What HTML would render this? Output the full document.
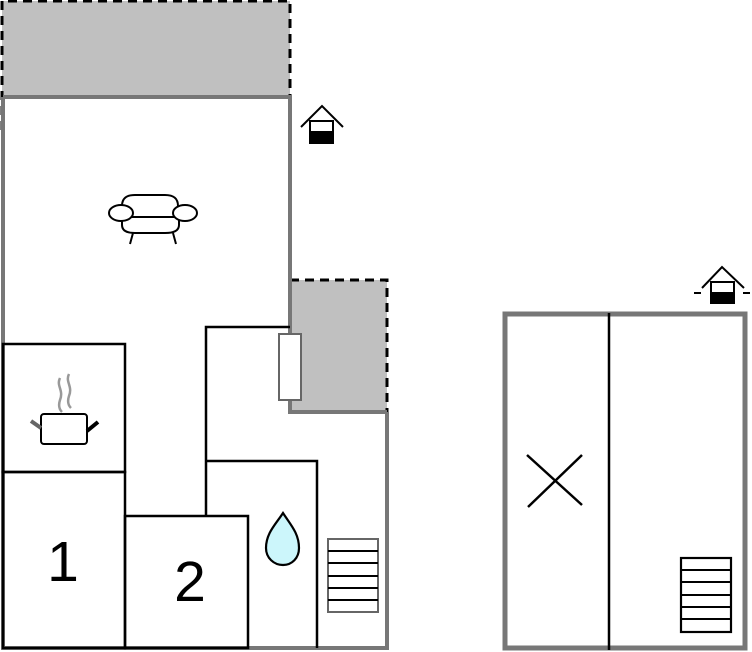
<!DOCTYPE html>
<html><head><style>html,body{margin:0;padding:0;background:#fff;width:752px;height:652px;overflow:hidden}</style></head>
<body>
<svg width="752" height="652" viewBox="0 0 752 652" xmlns="http://www.w3.org/2000/svg">
<rect x="2" y="1" width="288" height="96" fill="#c0c0c0"/>
<path d="M2 130 V1 H290 V130" fill="none" stroke="#000" stroke-width="3" stroke-dasharray="9,6"/>
<rect x="290" y="280" width="97" height="132" fill="#c0c0c0"/>
<path d="M290 280 H387 V412" fill="none" stroke="#000" stroke-width="3" stroke-dasharray="9,6"/>
<g fill="none" stroke="#777" stroke-width="4">
<path d="M3 97 H292"/>
<path d="M3 97 V650"/>
<path d="M290 97 V412 H387"/>
<path d="M387 412 V650"/>
<path d="M3 648 H389"/>
</g>
<g fill="none" stroke="#000" stroke-width="2.5">
<rect x="3" y="344" width="122" height="128"/>
<rect x="3" y="472" width="122" height="176"/>
<rect x="125" y="516" width="123" height="132"/>
<path d="M206 516 V327 H290"/>
<path d="M206 461 H317 V648"/>
</g>
<rect x="279" y="334" width="22" height="66" fill="#fff" stroke="#666" stroke-width="2"/>
<text x="63" y="581" font-family="Liberation Sans, sans-serif" font-size="57" text-anchor="middle">1</text>
<text x="190" y="601" font-family="Liberation Sans, sans-serif" font-size="57" text-anchor="middle">2</text>
<path d="M283 513 C276 524 266 533 266 548 C266 558 274 565 283 565 C292 565 299 558 299 548 C299 533 290 524 283 513 Z" fill="#ccf6fb" stroke="#000" stroke-width="2.2"/>
<rect x="328" y="539" width="50" height="73" fill="none" stroke="#666" stroke-width="2"/>
<g stroke="#000" stroke-width="2"><path d="M328 551H378M328 563H378M328 576H378M328 588H378M328 600H378"/></g>
<g fill="none">
<path d="M60 378 c-4 8 4 12 0 22 c-2 6 0 10 2 12" stroke="#999" stroke-width="2.5"/>
<path d="M69 374 c-4 8 4 12 0 22 c-2 6 0 10 2 12" stroke="#999" stroke-width="2.5"/>
<rect x="41" y="414" width="46" height="30" rx="3" fill="#fff" stroke="#000" stroke-width="2"/>
<path d="M31 421 L41 428" stroke="#666" stroke-width="4"/>
<path d="M87 431 L98 422" stroke="#000" stroke-width="4"/>
</g>
<g fill="#fff" stroke="#000" stroke-width="2">
<path d="M133 233 L130 244 M173 233 L176 244"/>
<path d="M122 217 V225 C122 232 130 233 135 233 H165 C171 233 179 232 179 225 V217 Z"/>
<path d="M122 206 C122 197 128 195 135 195 H165 C172 195 178 197 178 206 V217 H122 Z"/>
<ellipse cx="121" cy="213" rx="12" ry="8"/>
<ellipse cx="185" cy="213" rx="12" ry="8"/>
</g>
<g>
<path d="M301 127 L322 106 L343 127" fill="none" stroke="#000" stroke-width="2"/>
<rect x="310" y="121" width="23" height="22" fill="#fff" stroke="#000" stroke-width="2"/>
<rect x="310" y="131" width="23" height="12" fill="#000"/>
</g>
<rect x="505" y="314" width="240" height="334" fill="none" stroke="#777" stroke-width="5"/>
<path d="M609 313 V650" stroke="#000" stroke-width="2.5"/>
<path d="M527 455 L582 505 M528 507 L582 455" stroke="#000" stroke-width="2.5"/>
<rect x="681" y="558" width="50" height="74" fill="none" stroke="#000" stroke-width="2.2"/>
<g stroke="#000" stroke-width="2"><path d="M681 570H731M681 582H731M681 595H731M681 607H731M681 619H731"/></g>
<g>
<path d="M702 288 L722 267 L744 288" fill="none" stroke="#000" stroke-width="2"/>
<rect x="711" y="282" width="23" height="21" fill="#fff" stroke="#000" stroke-width="2"/>
<rect x="711" y="292" width="23" height="11" fill="#000"/>
<path d="M694 293 H701 M743 293 H750" stroke="#000" stroke-width="2"/>
</g>
</svg>
</body></html>
